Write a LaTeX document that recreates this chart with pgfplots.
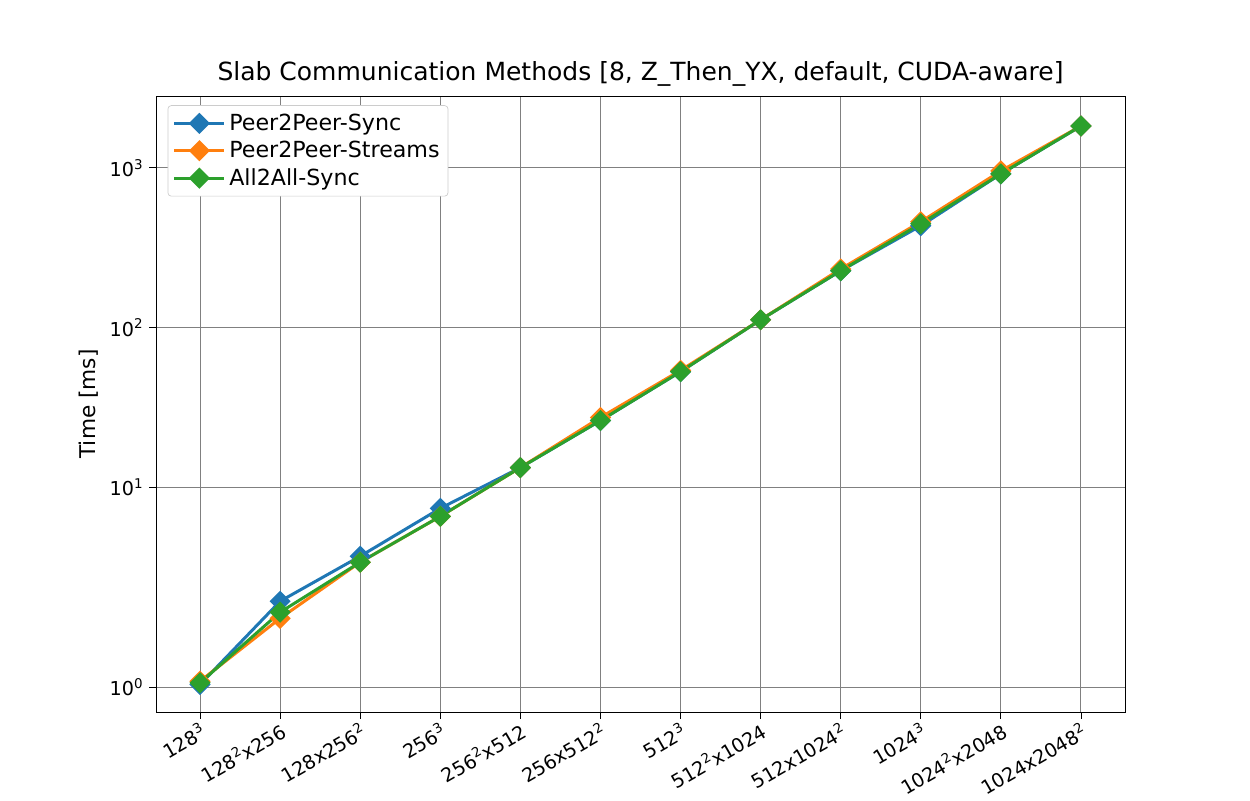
\documentclass[border=0pt]{standalone}
\usepackage{pgfplots}
\pgfplotsset{compat=1.18}
\usepackage{fontspec}
\setmainfont{DejaVu Sans}
\definecolor{c0}{HTML}{1F77B4}
\definecolor{c1}{HTML}{FF7F0E}
\definecolor{c2}{HTML}{2CA02C}
\newcommand{\sq}[1]{\textsuperscript{#1}}
\begin{document}
\begin{tikzpicture}
\path[use as bounding box] (-93.6pt,-52.8pt) rectangle (656.4pt,427.2pt);
\begin{axis}[
  at={(0,0)}, anchor=south west,
  scale only axis, width=581.4pt, height=369.6pt,
  y coord trafo/.code={\pgfmathparse{ifthenelse(#1<10, 1-(1-log10(#1))*1.25, log10(#1))}},
  ymin=0.75, ymax=2818,
  xmin=-0.55, xmax=11.55,
  ytick={1,10,100,1000},
  yticklabels={10\sq{0},10\sq{1},10\sq{2},10\sq{3}},
  xtick={0,...,11},
  xticklabels={128\sq{3},128\sq{2}x256,128x256\sq{2},256\sq{3},256\sq{2}x512,256x512\sq{2},512\sq{3},512\sq{2}x1024,512x1024\sq{2},1024\sq{3},1024\sq{2}x2048,1024x2048\sq{2}},
  x tick label style={rotate=30, anchor=north east, inner sep=1pt, font=\fontsize{11.5}{12}\selectfont},
  y tick label style={font=\fontsize{11.5}{12}\selectfont},
  grid=major, major grid style={gray, line width=0.6pt},
  major tick length=4pt, tick style={black, line width=0.5pt},
  tick align=outside, xtick pos=bottom, ytick pos=left,
  title={Slab Communication Methods [8, Z\_Then\_YX, default, CUDA-aware]},
  title style={font=\fontsize{15}{16}\selectfont, yshift=-4pt},
  ylabel={Time [ms]}, ylabel style={font=\fontsize{13}{14}\selectfont},
  legend style={font=\fontsize{13.3}{15}\selectfont, draw=black!20, rounded corners=2pt, inner sep=3pt, row sep=1pt, at={(0.012,0.985)}, anchor=north west},
  legend cell align=left,
  legend image code/.code={\draw[#1] (0pt,0pt) -- (30pt,0pt); \draw[#1, only marks] plot coordinates {(15pt,0pt)};},
  every axis plot/.append style={line width=1.8pt, mark=square*, mark size=3.6pt},
]
\addplot[c0, mark options={rotate=45, solid, fill=c0}] coordinates {(0,1.03)(1,2.69)(2,4.52)(3,7.85)(4,13.3)(5,26.2)(6,53)(7,112)(8,227)(9,434)(10,917)(11,1830)};
\addlegendentry{Peer2Peer-Sync}
\addplot[c1, mark options={rotate=45, solid, fill=c1}] coordinates {(0,1.07)(1,2.21)(2,4.22)(3,7.16)(4,13.3)(5,27.4)(6,54)(7,112)(8,233)(9,460)(10,957)(11,1830)};
\addlegendentry{Peer2Peer-Streams}
\addplot[c2, mark options={rotate=45, solid, fill=c2}] coordinates {(0,1.05)(1,2.37)(2,4.22)(3,7.16)(4,13.3)(5,26.2)(6,53)(7,112)(8,227)(9,447)(10,917)(11,1830)};
\addlegendentry{All2All-Sync}
\end{axis}
\end{tikzpicture}
\end{document}
